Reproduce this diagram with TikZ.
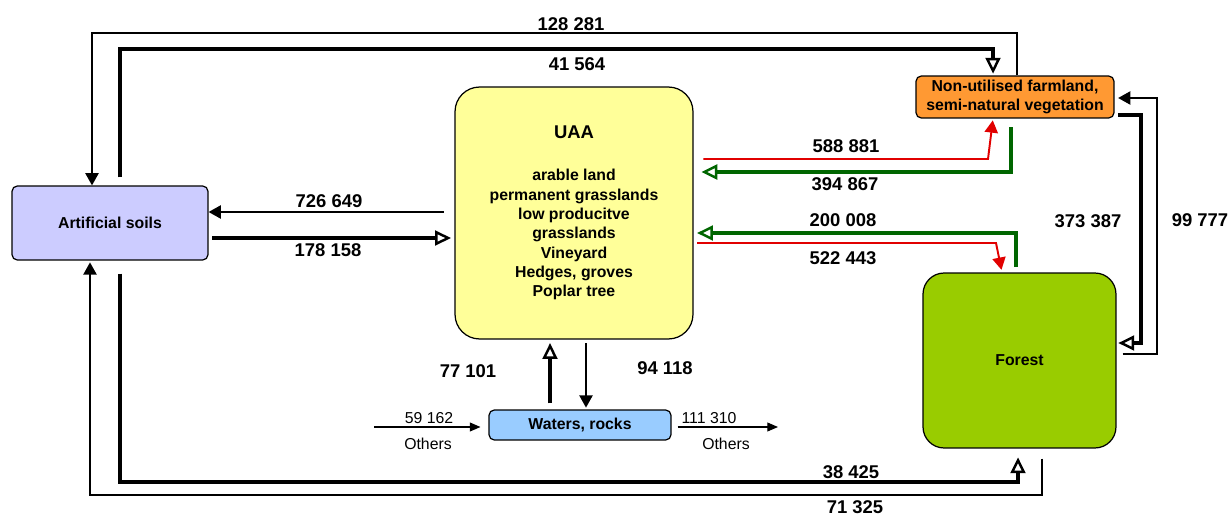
\documentclass[tikz,border=0pt]{standalone}
\usepackage{fontspec}
\setmainfont{Liberation Sans}
\usetikzlibrary{arrows.meta,calc}
\definecolor{ArtBlue}{RGB}{204,204,255}
\definecolor{UaaYellow}{RGB}{255,255,153}
\definecolor{NonOrange}{RGB}{255,153,51}
\definecolor{ForestGreen}{RGB}{153,204,0}
\definecolor{WaterBlue}{RGB}{153,204,255}
\definecolor{FlowRed}{RGB}{225,0,0}
\definecolor{FlowGreen}{RGB}{0,102,0}

\begin{document}
\begin{tikzpicture}[x=0.02cm,y=-0.02cm,
	landbox/.style={rectangle,draw,line width=0.7pt,inner sep=0pt,align=center,font=\bfseries\fontsize{9}{11}\selectfont},
	num/.style={font=\bfseries\fontsize{10.5}{12}\selectfont},
	others/.style={font=\fontsize{9}{11}\selectfont},
	thinflow/.style={line width=1.1pt,-{Triangle[length=7pt,width=7.5pt]}},
	thickflow/.style={line width=2.7pt,-{Triangle[open,length=9pt,width=8.5pt,line width=1.4pt]}},
	otherflow/.style={line width=0.6pt,-{Triangle[length=6pt,width=5pt]}}]
			\useasboundingbox (0,0) rectangle (1231,517);
			\node [landbox,fill=ArtBlue,minimum width=3.92cm,minimum height=1.48cm,rounded corners=3pt] (art) at (110,223) {Artificial soils};
			\node [landbox,fill=UaaYellow,minimum width=4.76cm,minimum height=5.04cm,rounded corners=14pt] (uaa) at (574,213)
			{{\fontsize{10.5}{12}\selectfont UAA}\\[13pt] arable land\\ permanent grasslands\\ low producitve\\ grasslands\\ Vineyard\\ Hedges, groves\\ Poplar tree};
			\node [landbox,fill=NonOrange,minimum width=3.96cm,minimum height=0.84cm,rounded corners=3pt] (nonu) at (1015,97) {Non-utilised farmland,\\ semi-natural vegetation};
			\node [landbox,fill=ForestGreen,minimum width=3.86cm,minimum height=3.5cm,rounded corners=12pt] (forest) at (1019.5,360.5) {Forest};
			\node [landbox,fill=WaterBlue,minimum width=3.64cm,minimum height=0.6cm,rounded corners=3pt] (water) at (580,425) {Waters, rocks};
			\coordinate (othin) at (374,427);
			\coordinate (othout) at (778,427);

			\draw [thinflow] (1017,0 |- nonu.north) -- (1017,33) -- (92,33) -- (92,0 |- art.north);
			\draw [thickflow,shorten <=4.5pt,shorten >=1pt] (120,0 |- art.north) -- (120,49) -- (993,49) -- (993,0 |- nonu.north);
			\draw [thinflow,shorten <=6pt] (uaa.west |- 0,212) -- (art.east |- 0,212);
			\draw [thickflow,shorten <=2pt,shorten >=2pt] (art.east |- 0,238) -- (uaa.west |- 0,238);
			\draw [thinflow,FlowRed,shorten <=5.5pt,shorten >=1pt] (uaa.east |- 0,159) -- (988,159) -- (993,0 |- nonu.south);
			\draw [thickflow,FlowGreen,shorten <=5pt,shorten >=4.5pt] (1011,0 |- nonu.south) -- (1011,172) -- (uaa.east |- 0,172);
			\draw [thickflow,FlowGreen,shorten <=3pt,shorten >=2pt] (1016,0 |- forest.north) -- (1016,233) -- (uaa.east |- 0,233);
			\draw [thinflow,FlowRed,shorten <=2pt,shorten >=1.5pt] (uaa.east |- 0,243) -- (996,243) -- (1002,0 |- forest.north);
			\draw [thickflow,shorten <=2pt,shorten >=1pt] (nonu.east |- 0,115) -- (1141,115) -- (1141,343) -- (forest.east |- 0,343);
			\draw [thinflow,shorten <=3.4pt,shorten >=2pt] (forest.east |- 0,354) -- (1157,354) -- (1157,98) -- (nonu.east |- 0,98);
			\draw [thickflow,shorten <=3.4pt,shorten >=2pt] (550,0 |- water.north) -- (550,0 |- uaa.south);
			\draw [thinflow,shorten <=2pt,shorten >=1pt] (586,0 |- uaa.south) -- (586,0 |- water.north);
			\draw [otherflow,shorten >=4.5pt] (othin) -- (water.west |- othin);
			\draw [otherflow,shorten <=3.4pt] (water.east |- othout) -- (othout);
			\draw [thickflow,shorten <=7.4pt,shorten >=5pt] (120,0 |- art.south) -- (120,482) -- (1018,482) -- (1018,0 |- forest.south);
			\draw [thinflow,shorten <=5.7pt,shorten >=1pt] (1042,0 |- forest.south) -- (1042,495) -- (90,495) -- (90,0 |- art.south);

			\node [num] (n1) at (571,24) {128 281};
			\node [num] (n2) at (577,64) {41 564};
			\node [num] (n3) at (329,201) {726 649};
			\node [num] (n4) at (328,250) {178 158};
			\node [num] (n5) at (846,146) {588 881};
			\node [num] (n6) at (845,184) {394 867};
			\node [num] (n7) at (843,220) {200 008};
			\node [num] (n8) at (843,258) {522 443};
			\node [num] (n9) at (1088,221) {373 387};
			\node [num] (n10) at (1200,220) {99 777};
			\node [num] (n11) at (468,371) {77 101};
			\node [num] (n12) at (665,368) {94 118};
			\node [num] (n13) at (851,472) {38 425};
			\node [num] (n14) at (855,507) {71 325};
			\node [others] (o1) at (429,418) {59 162};
			\node [others] (o2) at (428,444) {Others};
			\node [others] (o3) at (709,418) {111 310};
			\node [others] (o4) at (726,444) {Others};
		\end{tikzpicture}
\end{document}
